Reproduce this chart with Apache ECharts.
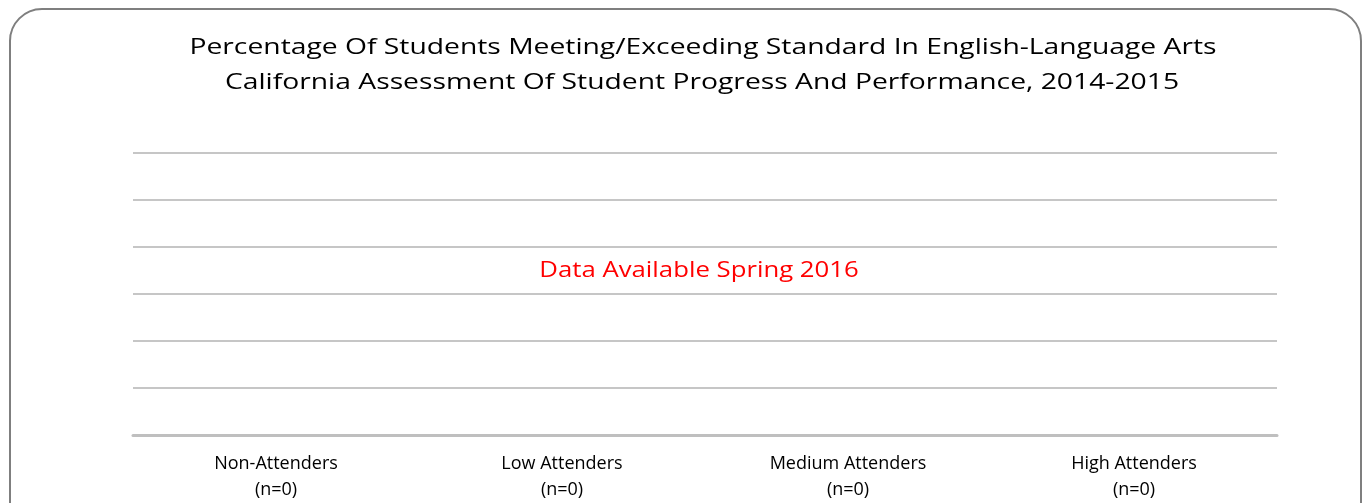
<!DOCTYPE html>
<html>
<head>
<meta charset="utf-8">
<script src="https://cdn.jsdelivr.net/npm/echarts@6/dist/echarts.min.js"></script>
<style>
html,body{margin:0;padding:0;background:#fff;}
#chart{width:1363px;height:503px;}
</style>
</head>
<body>
<div id="chart"></div>
<script>
// categories and values (no data yet, every group n=0)
var categories = ['Non-Attenders\n(n=0)', 'Low Attenders\n(n=0)', 'Medium Attenders\n(n=0)', 'High Attenders\n(n=0)'];
var values = [0, 0, 0, 0];
var titleLines = ['Percentage Of Students Meeting/Exceeding Standard In English-Language Arts',
                  'California Assessment Of Student Progress And Performance, 2014-2015'];
var note = 'Data Available Spring 2016';

var font = '"Open Sans", "DejaVu Sans", sans-serif';

// the original text is spaced out wide, stretch it a bit to match
function wideText(str, x, y, size, sx, color){
    return {
        type: 'text',
        x: x,
        y: y,
        scaleX: sx,
        silent: true,
        style: {
            text: str,
            fill: color,
            font: size + 'px ' + font,
            align: 'center',
            verticalAlign: 'middle'
        }
    };
}

var chart = echarts.init(document.getElementById('chart'));
var option = {
    animation: false,
    grid: {
        left: 133,
        right: 86,
        top: 153,
        bottom: 68,
        containLabel: false
    },
    xAxis: {
        type: 'category',
        data: categories,
        axisTick: {show: false},
        axisLine: {lineStyle: {color: '#bfbfbf', width: 3}},
        axisLabel: {
            fontFamily: font,
            fontSize: 18,
            color: '#000',
            lineHeight: 26,
            margin: 16
        }
    },
    yAxis: {
        type: 'value',
        min: 0,
        max: 60,
        interval: 10,
        axisLabel: {show: false},
        axisLine: {show: false},
        axisTick: {show: false},
        splitLine: {lineStyle: {color: '#c6c6c6', width: 2}}
    },
    series: [{
        type: 'bar',
        data: values,
        itemStyle: {color: '#4f81bd'}
    }],
    graphic: [
        {
            type: 'rect',
            shape: {x: 10, y: 9, width: 1351, height: 540, r: 32},
            style: {fill: 'none', stroke: '#7f7f7f', lineWidth: 2},
            silent: true
        },
        wideText(titleLines[0], 703, 48, 22, 1.285, '#000'),
        wideText(titleLines[1], 702, 83, 22, 1.285, '#000'),
        wideText(note, 699, 271, 22, 1.17, '#ff0000')
    ]
};
chart.setOption(option);
</script>
</body>
</html>
